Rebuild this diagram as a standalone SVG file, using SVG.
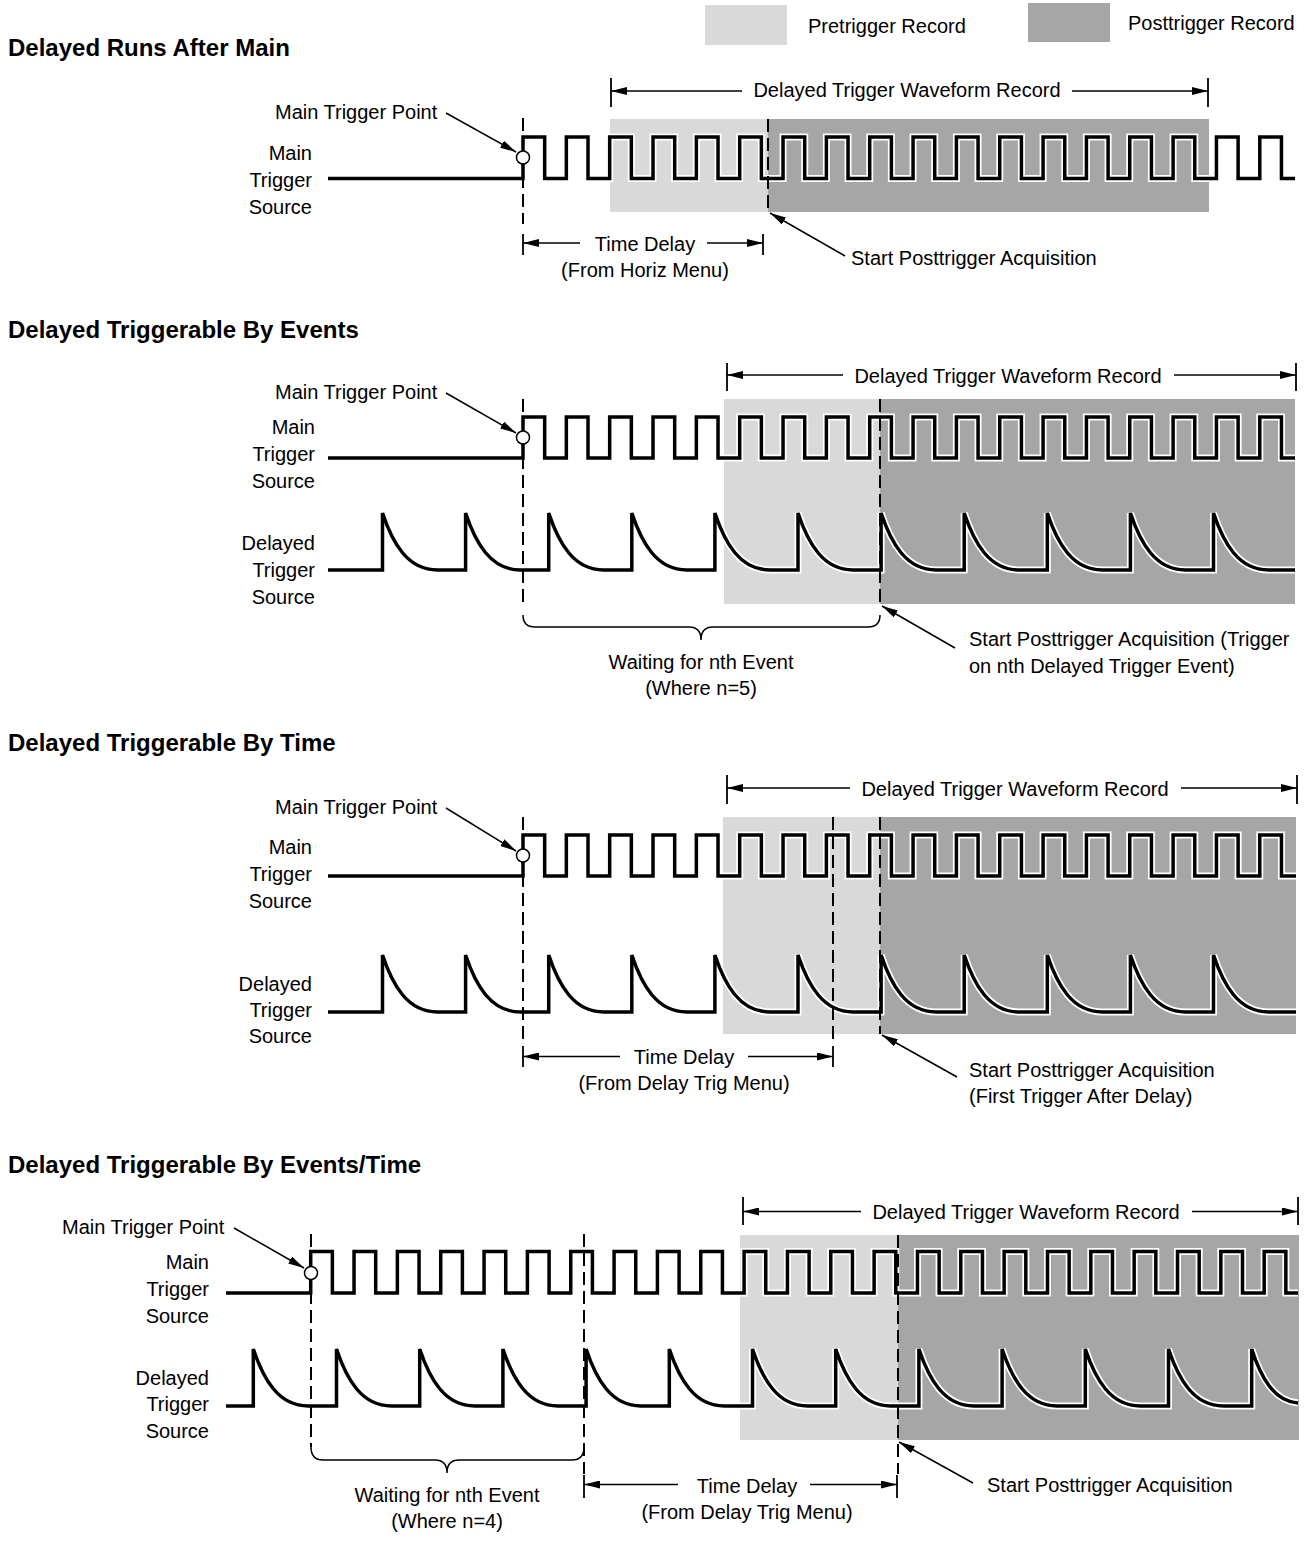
<svg xmlns="http://www.w3.org/2000/svg" width="1307" height="1543" viewBox="0 0 1307 1543">
<style>
text{font-family:"Liberation Sans",Arial,sans-serif;font-size:20px;fill:#000}
.title{font-weight:bold;font-size:24px}
.mid{text-anchor:middle}
.end{text-anchor:end}
.pre{fill:#d9d9d9}
.post{fill:#a6a6a6}
.halo{fill:none;stroke:#fff;stroke-width:7;stroke-linejoin:miter}
.wave{fill:none;stroke:#000;stroke-width:3.5;stroke-linejoin:miter}
.dash{stroke:#000;stroke-width:2;stroke-dasharray:13 6;fill:none}
.ln{stroke:#000;stroke-width:1.5;fill:none}
.tick{stroke:#000;stroke-width:1.8}
.arr{stroke:#000;stroke-width:1.5;fill:none;marker-end:url(#ah)}
.brace{stroke:#000;stroke-width:1.5;fill:none}
.pt{fill:#fff;stroke:#000;stroke-width:1.5}
</style>
<defs>
<marker id="ah" markerUnits="userSpaceOnUse" markerWidth="16" markerHeight="8" viewBox="0 0 16 8" refX="16" refY="4" orient="auto"><path d="M0,0L16,4L0,8z" fill="#000"/></marker>
<path id="sq1" d="M328,178.5H523v-41.5h21.67v41.5h21.67v-41.5h21.67v41.5h21.67v-41.5h21.67v41.5h21.67v-41.5h21.67v41.5h21.67v-41.5h21.67v41.5h21.67v-41.5h21.67v41.5h21.67v-41.5h21.67v41.5h21.67v-41.5h21.67v41.5h21.67v-41.5h21.67v41.5h21.67v-41.5h21.67v41.5h21.67v-41.5h21.67v41.5h21.67v-41.5h21.67v41.5h21.67v-41.5h21.67v41.5h21.67v-41.5h21.67v41.5h21.67v-41.5h21.67v41.5h21.67v-41.5h21.67v41.5h21.67v-41.5h21.67v41.5h21.67v-41.5h21.67v41.5H1295"/>
<path id="sq2" d="M328,458H523v-41h21.67v41h21.67v-41h21.67v41h21.67v-41h21.67v41h21.67v-41h21.67v41h21.67v-41h21.67v41h21.67v-41h21.67v41h21.67v-41h21.67v41h21.67v-41h21.67v41h21.67v-41h21.67v41h21.67v-41h21.67v41h21.67v-41h21.67v41h21.67v-41h21.67v41h21.67v-41h21.67v41h21.67v-41h21.67v41h21.67v-41h21.67v41h21.67v-41h21.67v41h21.67v-41h21.67v41h21.67v-41h21.67v41H1295"/>
<path id="sq3" d="M328,876H523v-41h21.67v41h21.67v-41h21.67v41h21.67v-41h21.67v41h21.67v-41h21.67v41h21.67v-41h21.67v41h21.67v-41h21.67v41h21.67v-41h21.67v41h21.67v-41h21.67v41h21.67v-41h21.67v41h21.67v-41h21.67v41h21.67v-41h21.67v41h21.67v-41h21.67v41h21.67v-41h21.67v41h21.67v-41h21.67v41h21.67v-41h21.67v41h21.67v-41h21.67v41h21.67v-41h21.67v41h21.67v-41h21.67v41H1296"/>
<path id="sq4" d="M226,1293H310.7v-41.5h21.67v41.5h21.67v-41.5h21.67v41.5h21.67v-41.5h21.67v41.5h21.67v-41.5h21.67v41.5h21.67v-41.5h21.67v41.5h21.67v-41.5h21.67v41.5h21.67v-41.5h21.67v41.5h21.67v-41.5h21.67v41.5h21.67v-41.5h21.67v41.5h21.67v-41.5h21.67v41.5h21.67v-41.5h21.67v41.5h21.67v-41.5h21.67v41.5h21.67v-41.5h21.67v41.5h21.67v-41.5h21.67v41.5h21.67v-41.5h21.67v41.5h21.67v-41.5h21.67v41.5h21.67v-41.5h21.67v41.5h21.67v-41.5h21.67v41.5h21.67v-41.5h21.67v41.5h21.67v-41.5h21.67v41.5h21.67v-41.5h21.67v41.5h21.67v-41.5h21.67v41.5h21.67v-41.5h21.67v41.5H1298"/>
<path id="dc2" d="M328,570H382.5v-57c10,30 25,57 55,57h28.1v-57c10,30 25,57 55,57h28.1v-57c10,30 25,57 55,57h28.1v-57c10,30 25,57 55,57h28.1v-57c10,30 25,57 55,57h28.1v-57c10,30 25,57 55,57h28.1v-57c10,30 25,57 55,57h28.1v-57c10,30 25,57 55,57h28.1v-57c10,30 25,57 55,57h28.1v-57c10,30 25,57 55,57h28.1v-57c10,30 25,57 55,57H1295"/>
<path id="dc3" d="M328,1012H382.5v-57c10,30 25,57 55,57h28.1v-57c10,30 25,57 55,57h28.1v-57c10,30 25,57 55,57h28.1v-57c10,30 25,57 55,57h28.1v-57c10,30 25,57 55,57h28.1v-57c10,30 25,57 55,57h28.1v-57c10,30 25,57 55,57h28.1v-57c10,30 25,57 55,57h28.1v-57c10,30 25,57 55,57h28.1v-57c10,30 25,57 55,57h28.1v-57c10,30 25,57 55,57H1296"/>
<path id="dc4" d="M226,1406H253.3v-57c10,30 25,57 55,57h28.2v-57c10,30 25,57 55,57h28.2v-57c10,30 25,57 55,57h28.2v-57c10,30 25,57 55,57h28.2v-57c10,30 25,57 55,57h28.2v-57c10,30 25,57 55,57h28.2v-57c10,30 25,57 55,57h28.2v-57c10,30 25,57 55,57h28.2v-57c10,30 25,57 55,57h28.2v-57c10,30 25,57 55,57h28.2v-57c10,30 25,57 55,57h28.2v-57c10,30 25,57 55,57h28.2v-57c9,28 22,52 46.3,54"/>
</defs>

<g id="legend">
<rect class="pre" x="705" y="5" width="82" height="40"/>
<text x="808" y="33">Pretrigger Record</text>
<rect class="post" x="1028" y="3" width="82" height="39"/>
<text x="1128" y="30">Posttrigger Record</text>
</g>

<!-- Section 1 -->
<g id="sec1">
<text class="title" x="8" y="56">Delayed Runs After Main</text>
<rect class="pre" x="610" y="119" width="158" height="93"/>
<rect class="post" x="768" y="119" width="441" height="93"/>
<use href="#sq1" class="halo"/>
<use href="#sq1" class="wave"/>
<g id="s1-labels">
<text class="end" x="312" y="160">Main</text>
<text class="end" x="312" y="187">Trigger</text>
<text class="end" x="312" y="214">Source</text>
<text x="275" y="119">Main Trigger Point</text>
<text class="mid" x="907" y="97">Delayed Trigger Waveform Record</text>
<text class="mid" x="645" y="251">Time Delay</text>
<text class="mid" x="645" y="277">(From Horiz Menu)</text>
<text x="851" y="265">Start Posttrigger Acquisition</text>
</g>
<g id="s1-connectors">
<line class="dash" x1="523" y1="118" x2="523" y2="224"/>
<line class="dash" x1="768" y1="119" x2="768" y2="212"/>
<line class="tick" x1="611" y1="78" x2="611" y2="107"/>
<line class="tick" x1="1208" y1="78" x2="1208" y2="107"/>
<line class="arr" x1="742" y1="91" x2="611" y2="91"/>
<line class="arr" x1="1072" y1="91" x2="1208" y2="91"/>
<line class="tick" x1="523" y1="234" x2="523" y2="255"/>
<line class="tick" x1="763" y1="234" x2="763" y2="255"/>
<line class="arr" x1="580" y1="243" x2="523" y2="243"/>
<line class="arr" x1="707" y1="243" x2="763" y2="243"/>
<line class="arr" x1="446" y1="113" x2="516" y2="152"/>
<line class="arr" x1="845" y1="256" x2="770" y2="213"/>
<circle class="pt" cx="523" cy="157.5" r="6.5"/>
</g>
</g>

<!-- Section 2 -->
<g id="sec2">
<text class="title" x="8" y="338">Delayed Triggerable By Events</text>
<rect class="pre" x="724" y="399" width="156" height="205"/>
<rect class="post" x="880" y="399" width="415" height="205"/>
<use href="#sq2" class="halo"/>
<use href="#sq2" class="wave"/>
<use href="#dc2" class="halo"/>
<use href="#dc2" class="wave"/>
<g id="s2-labels">
<text class="end" x="315" y="434">Main</text>
<text class="end" x="315" y="461">Trigger</text>
<text class="end" x="315" y="488">Source</text>
<text class="end" x="315" y="550">Delayed</text>
<text class="end" x="315" y="577">Trigger</text>
<text class="end" x="315" y="604">Source</text>
<text x="275" y="399">Main Trigger Point</text>
<text class="mid" x="1008" y="383">Delayed Trigger Waveform Record</text>
<text class="mid" x="701" y="669">Waiting for nth Event</text>
<text class="mid" x="701" y="695">(Where n=5)</text>
<text x="969" y="646">Start Posttrigger Acquisition (Trigger</text>
<text x="969" y="673">on nth Delayed Trigger Event)</text>
</g>
<g id="s2-connectors">
<line class="dash" x1="523" y1="399" x2="523" y2="604"/>
<line class="dash" x1="880" y1="399" x2="880" y2="604"/>
<line class="tick" x1="727" y1="363" x2="727" y2="391"/>
<line class="tick" x1="1296" y1="363" x2="1296" y2="391"/>
<line class="arr" x1="843" y1="375" x2="727" y2="375"/>
<line class="arr" x1="1174" y1="375" x2="1296" y2="375"/>
<line class="arr" x1="446" y1="393" x2="516" y2="433"/>
<line class="arr" x1="955" y1="648" x2="882" y2="606"/>
<path class="brace" d="M523,615Q523,627 535,627H689Q701,627 701,640Q701,627 713,627H868Q880,627 880,615"/>
<circle class="pt" cx="523" cy="437.5" r="6.5"/>
</g>
</g>

<!-- Section 3 -->
<g id="sec3">
<text class="title" x="8" y="751">Delayed Triggerable By Time</text>
<rect class="pre" x="723" y="817" width="157" height="217"/>
<rect class="post" x="880" y="817" width="416" height="217"/>
<use href="#sq3" class="halo"/>
<use href="#sq3" class="wave"/>
<use href="#dc3" class="halo"/>
<use href="#dc3" class="wave"/>
<g id="s3-labels">
<text class="end" x="312" y="854">Main</text>
<text class="end" x="312" y="881">Trigger</text>
<text class="end" x="312" y="908">Source</text>
<text class="end" x="312" y="991">Delayed</text>
<text class="end" x="312" y="1017">Trigger</text>
<text class="end" x="312" y="1043">Source</text>
<text x="275" y="814">Main Trigger Point</text>
<text class="mid" x="1015" y="796">Delayed Trigger Waveform Record</text>
<text class="mid" x="684" y="1064">Time Delay</text>
<text class="mid" x="684" y="1090">(From Delay Trig Menu)</text>
<text x="969" y="1077">Start Posttrigger Acquisition</text>
<text x="969" y="1103">(First Trigger After Delay)</text>
</g>
<g id="s3-connectors">
<line class="dash" x1="523" y1="817" x2="523" y2="1045"/>
<line class="dash" x1="833" y1="817" x2="833" y2="1045"/>
<line class="dash" x1="880" y1="817" x2="880" y2="1034"/>
<line class="tick" x1="727" y1="775" x2="727" y2="804"/>
<line class="tick" x1="1297" y1="775" x2="1297" y2="804"/>
<line class="arr" x1="850" y1="788" x2="727" y2="788"/>
<line class="arr" x1="1181" y1="788" x2="1297" y2="788"/>
<line class="tick" x1="523" y1="1046" x2="523" y2="1067"/>
<line class="tick" x1="833" y1="1046" x2="833" y2="1067"/>
<line class="arr" x1="620" y1="1056.5" x2="523" y2="1056.5"/>
<line class="arr" x1="748" y1="1056.5" x2="833" y2="1056.5"/>
<line class="arr" x1="446" y1="808" x2="516" y2="851"/>
<line class="arr" x1="957" y1="1077" x2="882" y2="1035"/>
<circle class="pt" cx="523" cy="855.5" r="6.5"/>
</g>
</g>

<!-- Section 4 -->
<g id="sec4">
<text class="title" x="8" y="1173">Delayed Triggerable By Events/Time</text>
<rect class="pre" x="740" y="1235" width="158" height="205"/>
<rect class="post" x="898" y="1235" width="401" height="205"/>
<use href="#sq4" class="halo"/>
<use href="#sq4" class="wave"/>
<use href="#dc4" class="halo"/>
<use href="#dc4" class="wave"/>
<g id="s4-labels">
<text class="end" x="209" y="1269">Main</text>
<text class="end" x="209" y="1296">Trigger</text>
<text class="end" x="209" y="1323">Source</text>
<text class="end" x="209" y="1385">Delayed</text>
<text class="end" x="209" y="1411">Trigger</text>
<text class="end" x="209" y="1438">Source</text>
<text x="62" y="1234">Main Trigger Point</text>
<text class="mid" x="1026" y="1219">Delayed Trigger Waveform Record</text>
<text class="mid" x="447" y="1502">Waiting for nth Event</text>
<text class="mid" x="447" y="1528">(Where n=4)</text>
<text class="mid" x="747" y="1493">Time Delay</text>
<text class="mid" x="747" y="1519">(From Delay Trig Menu)</text>
<text x="987" y="1492">Start Posttrigger Acquisition</text>
</g>
<g id="s4-connectors">
<line class="dash" x1="311" y1="1234" x2="311" y2="1447"/>
<line class="dash" x1="584" y1="1234" x2="584" y2="1474"/>
<line class="dash" x1="898" y1="1235" x2="898" y2="1474"/>
<line class="tick" x1="743" y1="1197" x2="743" y2="1225"/>
<line class="tick" x1="1298" y1="1197" x2="1298" y2="1225"/>
<line class="arr" x1="861" y1="1211.5" x2="743" y2="1211.5"/>
<line class="arr" x1="1192" y1="1211.5" x2="1298" y2="1211.5"/>
<line class="tick" x1="584" y1="1475" x2="584" y2="1498"/>
<line class="tick" x1="897" y1="1475" x2="897" y2="1498"/>
<line class="arr" x1="678" y1="1484.5" x2="584" y2="1484.5"/>
<line class="arr" x1="810" y1="1484.5" x2="897" y2="1484.5"/>
<line class="arr" x1="234" y1="1228" x2="304" y2="1268"/>
<line class="arr" x1="973" y1="1483" x2="899" y2="1442"/>
<path class="brace" d="M311,1447Q311,1460 323,1460H435Q447,1460 447,1473Q447,1460 459,1460H572Q584,1460 584,1447"/>
<circle class="pt" cx="311" cy="1273" r="6.5"/>
</g>
</g>
</svg>
